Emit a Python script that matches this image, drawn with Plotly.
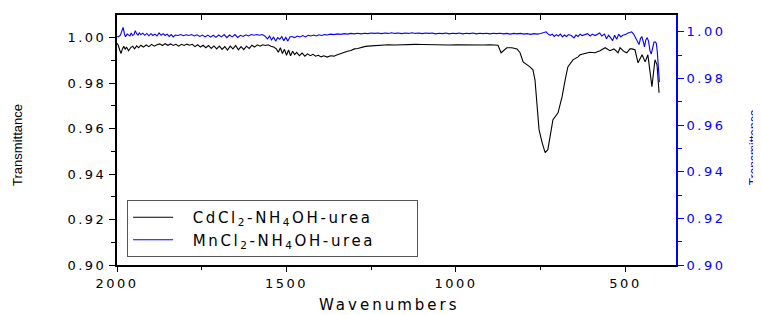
import plotly.graph_objects as go

# ---------------- data ----------------
cd_wn = [2000, 1996, 1992, 1988, 1984, 1980, 1976, 1972, 1966, 1960, 1954, 1948, 1942, 1936, 1930,
         1922, 1914, 1906, 1898, 1890, 1882, 1874, 1866, 1858, 1850, 1842, 1834, 1826, 1818, 1810,
         1802, 1794, 1786, 1778, 1770, 1762, 1754, 1746, 1738, 1730, 1722, 1714, 1706, 1698, 1690,
         1682, 1674, 1666, 1658, 1650, 1642, 1634, 1626, 1618, 1610, 1602, 1594, 1586, 1578, 1570,
         1562, 1554, 1546, 1538, 1530, 1524, 1518, 1512, 1506, 1500, 1494, 1488, 1482, 1476, 1470,
         1462, 1454, 1446, 1438, 1430, 1422, 1414, 1406, 1398, 1390, 1380, 1370, 1360, 1350, 1340,
         1330, 1320, 1310, 1300, 1290, 1280, 1270, 1260, 1250, 1240, 1230, 1220, 1200, 1180, 1160,
         1140, 1120, 1100, 1080, 1060, 1040, 1020, 1000, 980, 960, 940, 920, 900, 880, 876,
         867, 850, 835, 820, 811, 802, 782, 773, 767, 761, 755, 746, 737, 729, 720,
         714, 699, 687, 678, 670, 655, 640, 634, 620, 605, 590, 575, 560, 546, 534,
         522, 516, 504, 496, 487, 481, 472, 463, 451, 442, 434, 422, 413, 407, 401]
cd_t = [0.9975, 0.9965, 0.9945, 0.9930, 0.9950, 0.9962, 0.9948, 0.9958, 0.9942, 0.9955, 0.9962, 0.9950, 0.9963, 0.9955, 0.9966,
        0.9958, 0.9967, 0.9960, 0.9970, 0.9962, 0.9968, 0.9972, 0.9965, 0.9973, 0.9966, 0.9972, 0.9965, 0.9970, 0.9962, 0.9970,
        0.9965, 0.9971, 0.9966, 0.9970, 0.9960, 0.9968, 0.9958, 0.9966, 0.9955, 0.9965, 0.9952, 0.9963, 0.9950, 0.9962, 0.9948,
        0.9960, 0.9945, 0.9962, 0.9950, 0.9965, 0.9946, 0.9960, 0.9947, 0.9962, 0.9952, 0.9966, 0.9958, 0.9968, 0.9962, 0.9968,
        0.9965, 0.9968, 0.9962, 0.9958, 0.9950, 0.9935, 0.9955, 0.9930, 0.9948, 0.9922, 0.9945, 0.9920, 0.9940, 0.9925, 0.9935,
        0.9920, 0.9932, 0.9918, 0.9928, 0.9920, 0.9926, 0.9918, 0.9922, 0.9915, 0.9920, 0.9914, 0.9920, 0.9918, 0.9924, 0.9930,
        0.9934, 0.9940, 0.9943, 0.9950, 0.9952, 0.9957, 0.9960, 0.9962, 0.9963, 0.9966, 0.9965, 0.9967, 0.9968, 0.9967, 0.9969,
        0.9968, 0.9970, 0.9969, 0.9968, 0.9969, 0.9968, 0.9967, 0.9968, 0.9967, 0.9969, 0.9968, 0.9967, 0.9968, 0.9966, 0.9966,
        0.9933, 0.9955, 0.9955, 0.9950, 0.9933, 0.9893, 0.9871, 0.9858, 0.9814, 0.9713, 0.9595, 0.9538, 0.9494, 0.9507, 0.9582,
        0.9639, 0.9669, 0.9740, 0.9814, 0.9871, 0.9902, 0.9915, 0.9924, 0.9930, 0.9935, 0.9933, 0.9942, 0.9955, 0.9942, 0.9950,
        0.9933, 0.9955, 0.9938, 0.9933, 0.9950, 0.9950, 0.9946, 0.9889, 0.9924, 0.9893, 0.9924, 0.9784, 0.9902, 0.9880, 0.9757]

mn_wn = [2000, 1996, 1990, 1985, 1982, 1978, 1975, 1970, 1966, 1962, 1958, 1954, 1950, 1946, 1942,
         1938, 1934, 1930, 1924, 1918, 1912, 1906, 1900, 1894, 1888, 1882, 1876, 1870, 1864, 1858,
         1852, 1846, 1840, 1834, 1828, 1820, 1812, 1804, 1796, 1788, 1780, 1772, 1764, 1756, 1748,
         1740, 1732, 1724, 1716, 1708, 1700, 1692, 1684, 1676, 1668, 1660, 1652, 1644, 1636, 1628,
         1620, 1612, 1604, 1596, 1588, 1580, 1572, 1564, 1556, 1550, 1544, 1538, 1532, 1526, 1520,
         1514, 1508, 1502, 1496, 1490, 1484, 1476, 1468, 1460, 1452, 1444, 1436, 1428, 1420, 1412,
         1404, 1396, 1388, 1380, 1370, 1360, 1350, 1340, 1330, 1320, 1310, 1300, 1290, 1280, 1270,
         1260, 1250, 1240, 1230, 1220, 1210, 1200, 1190, 1180, 1170, 1160, 1150, 1140, 1130, 1120,
         1110, 1100, 1090, 1080, 1070, 1060, 1050, 1040, 1030, 1020, 1010, 1000, 990, 980, 970,
         960, 950, 940, 930, 920, 910, 900, 890, 880, 870, 860, 850, 840, 830, 820,
         810, 800, 790, 780, 770, 760, 750, 740, 734, 728, 722, 716, 710, 704, 698,
         692, 686, 680, 674, 668, 660, 652, 646, 640, 634, 628, 620, 612, 604, 598,
         590, 582, 576, 570, 562, 556, 550, 544, 538, 532, 526, 520, 514, 508, 500,
         494, 488, 482, 476, 470, 466, 460, 456, 452, 448, 444, 440, 436, 432, 428,
         424, 420, 416, 412, 409, 406, 403, 400]
mn_t = [0.9980, 0.9978, 0.9985, 1.0010, 1.0019, 0.9990, 0.9979, 0.9990, 0.9985, 0.9982, 0.9995, 0.9984, 0.9988, 1.0005, 0.9992,
        0.9986, 0.9995, 0.9988, 0.9994, 0.9985, 0.9993, 0.9983, 0.9992, 0.9984, 0.9990, 0.9982, 0.9995, 0.9985, 0.9992, 0.9984,
        0.9990, 0.9980, 0.9988, 0.9978, 0.9986, 0.9984, 0.9988, 0.9983, 0.9987, 0.9984, 0.9988, 0.9982, 0.9987, 0.9980, 0.9986,
        0.9978, 0.9986, 0.9977, 0.9985, 0.9976, 0.9986, 0.9978, 0.9988, 0.9975, 0.9986, 0.9978, 0.9988, 0.9976, 0.9985, 0.9980,
        0.9987, 0.9982, 0.9988, 0.9985, 0.9988, 0.9985, 0.9988, 0.9982, 0.9970, 0.9982, 0.9965, 0.9978, 0.9960, 0.9975, 0.9968,
        0.9980, 0.9962, 0.9976, 0.9960, 0.9978, 0.9980, 0.9975, 0.9982, 0.9978, 0.9984, 0.9978, 0.9985, 0.9982, 0.9986, 0.9982,
        0.9987, 0.9984, 0.9988, 0.9986, 0.9990, 0.9988, 0.9991, 0.9989, 0.9992, 0.9990, 0.9993, 0.9991, 0.9994, 0.9991, 0.9994,
        0.9992, 0.9995, 0.9993, 0.9995, 0.9992, 0.9995, 0.9993, 0.9996, 0.9993, 0.9995, 0.9992, 0.9995, 0.9993, 0.9996, 0.9993,
        0.9995, 0.9992, 0.9995, 0.9993, 0.9995, 0.9991, 0.9994, 0.9992, 0.9995, 0.9991, 0.9994, 0.9992, 0.9995, 0.9991, 0.9994,
        0.9992, 0.9995, 0.9991, 0.9994, 0.9992, 0.9994, 0.9991, 0.9994, 0.9992, 0.9994, 0.9991, 0.9993, 0.9990, 0.9993, 0.9991,
        0.9993, 0.9990, 0.9992, 0.9989, 0.9992, 0.9990, 0.9993, 0.9996, 1.0000, 0.9990, 0.9985, 0.9990, 0.9980, 0.9988, 0.9982,
        0.9990, 0.9978, 0.9986, 0.9980, 0.9988, 0.9984, 0.9974, 0.9986, 0.9980, 0.9990, 0.9984, 0.9988, 0.9992, 0.9982, 0.9990,
        0.9984, 0.9992, 0.9995, 0.9982, 0.9990, 0.9970, 0.9985, 0.9975, 0.9962, 0.9985, 0.9968, 0.9990, 0.9978, 0.9985, 0.9988,
        0.9994, 0.9998, 1.0000, 0.9990, 0.9975, 0.9962, 0.9945, 0.9970, 0.9980, 0.9960, 0.9935, 0.9965, 0.9975, 0.9960, 0.9920,
        0.9905, 0.9935, 0.9955, 0.9957, 0.9950, 0.9910, 0.9860, 0.9784]

x_range = [2000, 351]
left_range = [0.90, 1.0099]
right_range = [0.90, 1.0072]
x_ticks = [2000, 1500, 1000, 500]
y_ticks = [0.90, 0.92, 0.94, 0.96, 0.98, 1.00]
name_cd = "CdCl<sub>2</sub>-NH<sub>4</sub>OH-urea"
name_mn = "MnCl<sub>2</sub>-NH<sub>4</sub>OH-urea"


def spaced(s, px):
    return "<span style='letter-spacing:%spx'>%s</span>" % (px, s)


def legend_label(s):
    # padding spaces so the legend box/text sit like the original frame
    return spaced("&nbsp;&nbsp;" + s + "&nbsp;&nbsp;&nbsp;&nbsp;&nbsp;", 2.6)


FONT = "DejaVu Sans, Liberation Sans, Arial, sans-serif"
NARROW = "Liberation Sans Narrow, Arial Narrow, Liberation Sans, sans-serif"

fig = go.Figure()
fig.add_trace(go.Scatter(x=cd_wn, y=cd_t, mode="lines", name=legend_label(name_cd),
                         line=dict(color="black", width=1.1), yaxis="y", xaxis="x"))
fig.add_trace(go.Scatter(x=mn_wn, y=mn_t, mode="lines", name=legend_label(name_mn),
                         line=dict(color="#0000ff", width=1.1), yaxis="y2", xaxis="x"))
# helper trace so that the top (mirror) axis with inward ticks is drawn
fig.add_trace(go.Scatter(x=cd_wn, y=cd_t, mode="lines", xaxis="x2", yaxis="y",
                         line=dict(width=0, color="rgba(0,0,0,0)"), showlegend=False,
                         hoverinfo="skip"))

fig.update_layout(
    width=761, height=315,
    margin=dict(l=109, r=93, t=7, b=58),
    paper_bgcolor="white", plot_bgcolor="white",
    font=dict(family=FONT, size=13, color="black"),
    showlegend=True,
    legend=dict(x=0.018, y=0.032, xanchor="left", yanchor="bottom",
                bgcolor="white", bordercolor="#555555", borderwidth=1,
                font=dict(family=FONT, size=15, color="black"),
                tracegroupgap=0, itemwidth=40),
    xaxis=dict(range=x_range, showgrid=False, zeroline=False,
               showline=True, linecolor="black", linewidth=2,
               ticks="outside", ticklen=5, tickwidth=1, tickcolor="black",
               tickvals=x_ticks, ticktext=[spaced(str(v), 2.5) for v in x_ticks],
               minor=dict(dtick=250, tick0=0, ticks="outside", ticklen=3, tickcolor="black"),
               tickfont=dict(family=FONT, size=13, color="black")),
    xaxis2=dict(range=x_range, overlaying="x", side="top", anchor="y",
                showgrid=False, zeroline=False, showline=True, linecolor="black", linewidth=1.5,
                ticks="inside", ticklen=5, dtick=250, tick0=0, tickcolor="black",
                showticklabels=False),
    yaxis=dict(range=left_range, showgrid=False, zeroline=False,
               showline=True, linecolor="black", linewidth=2,
               ticks="outside", ticklen=6, tickcolor="black",
               tickvals=y_ticks, ticktext=[spaced("%.2f" % v, 2.5) for v in y_ticks],
               minor=dict(dtick=0.01, tick0=0.9, ticks="outside", ticklen=4, tickcolor="black"),
               tickfont=dict(family=FONT, size=13, color="black")),
    yaxis2=dict(range=right_range, overlaying="y", side="right", anchor="x",
                showgrid=False, zeroline=False,
                showline=True, linecolor="#0000ff", linewidth=2,
                ticks="outside", ticklen=6, tickcolor="#0000ff",
                tickvals=y_ticks, ticktext=[spaced("%.2f" % v, 2.5) for v in y_ticks],
                minor=dict(dtick=0.01, tick0=0.9, ticks="outside", ticklen=4, tickcolor="#0000ff"),
                tickfont=dict(family=FONT, size=13, color="#0000ff")),
    annotations=[
        dict(text="Transmittance", xref="paper", yref="paper", x=-0.179, y=0.48,
             textangle=-90, showarrow=False, xanchor="center", yanchor="middle",
             font=dict(family=NARROW, size=13, color="black")),
        dict(text="Transmittance", xref="paper", yref="paper", x=1.139, y=0.47,
             textangle=-90, showarrow=False, xanchor="center", yanchor="middle",
             font=dict(family=NARROW, size=12, color="#0000ff")),
        dict(text=spaced("Wavenumbers", 3), xref="paper", yref="paper", x=0.487, y=-0.16,
             showarrow=False, xanchor="center", yanchor="middle",
             font=dict(family=FONT, size=15, color="black")),
    ],
)

fig.write_html("out.html")
